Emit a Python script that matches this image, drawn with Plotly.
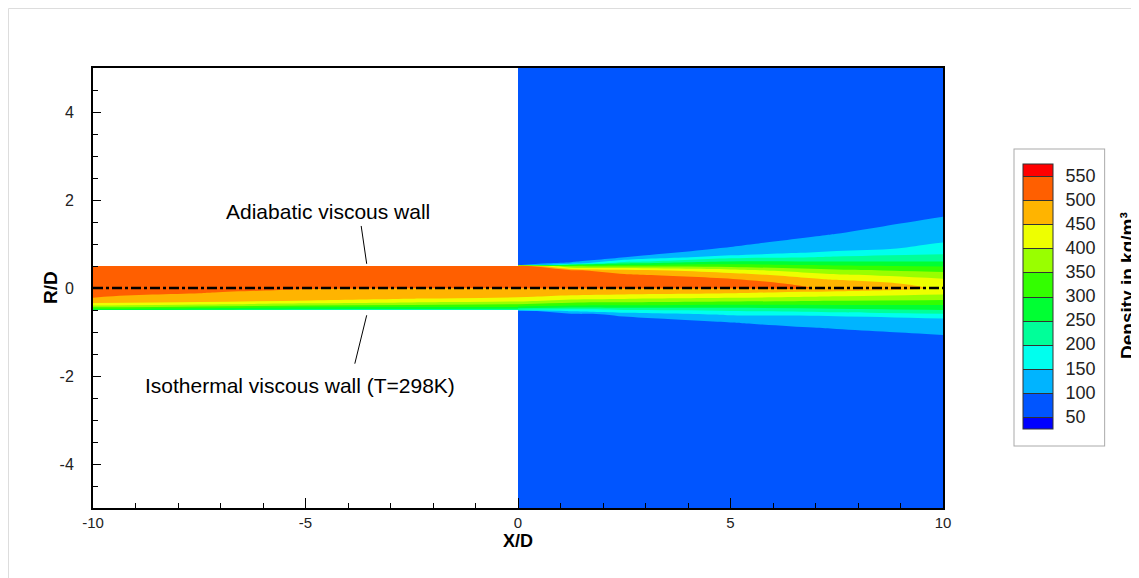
import plotly.graph_objects as go

# ---------------- data ----------------
levels = [50, 100, 150, 200, 250, 300, 350, 400, 450, 500, 550]
band_colors = ["#0000FF", "#0055FF", "#00B4FF", "#00FFEE", "#00FF99", "#00FF33",
               "#33FF00", "#99FF00", "#EEFF00", "#FFB400", "#FF5F00", "#FF0000"]

x_ticks = [-10, -5, 0, 5, 10]
x_ticktext = ["-10", "-5", "0", "5", "10"]
y_ticks = [-4, -2, 0, 2, 4]
y_ticktext = ["-4", "-2", "0", "2", "4"]

# density inside the pipe (x < 0), rows = r/D, columns = x/D
pipe_x = [-10, -7.5, -5, -2.5, 0]
pipe_r = [-0.5, -0.47, -0.44, -0.40, -0.36, -0.32, -0.28, -0.24, -0.20,
          -0.15, -0.10, -0.05, 0.0, 0.5]
pipe_rho = [
    [260, 245, 230, 220, 200],
    [312, 286, 262, 256, 250],
    [350, 325, 300, 294, 292],
    [400, 372, 350, 335, 325],
    [440, 414, 390, 373, 358],
    [463, 450, 425, 406, 392],
    [480, 461, 452, 431, 417],
    [498, 472, 460, 452, 439],
    [502, 482, 468, 461, 455],
    [505, 496, 478, 471, 466],
    [507, 502, 488, 482, 478],
    [510, 505, 498, 493, 490],
    [513, 508, 503, 501, 501],
    [540, 540, 540, 540, 540],
]

# density of the free jet (x > 0), rows = r/D, columns = x/D
jet_x = [0, 1.25, 2.5, 5, 7.5, 10]
jet_r = [-5, -1.4, -1.2, -1.0, -0.9, -0.8, -0.7, -0.6, -0.56, -0.52, -0.5,
         -0.4, -0.3, -0.2, -0.1, 0.0, 0.1, 0.2, 0.3, 0.4, 0.5, 0.52, 0.56,
         0.6, 0.7, 0.8, 0.9, 1.0, 1.2, 1.4, 1.6, 1.8, 2.2, 5]
jet_rho = [
    [75, 75, 75, 75, 75, 75],
    [75, 60, 60, 63, 72, 80],
    [75, 62, 67, 75, 84, 92],
    [75, 71, 79, 87, 96, 104],
    [75, 77, 85, 93, 102, 110],
    [75, 83, 91, 99, 108, 116],
    [75, 89, 97, 105, 114, 148],
    [75, 95, 103, 160, 176, 191],
    [75, 108, 150, 180, 195, 212],
    [75, 158, 183, 200, 220, 237],
    [200, 183, 200, 214, 233, 250],
    [325, 300, 296, 286, 292, 295],
    [406, 375, 369, 356, 345, 338],
    [455, 438, 428, 414, 395, 382],
    [478, 474, 470, 460, 435, 415],
    [501, 503, 503, 506, 498, 440],
    [508, 512, 510, 510, 490, 422],
    [516, 516, 511, 503, 443, 404],
    [524, 516, 506, 472, 407, 373],
    [532, 510, 473, 420, 360, 337],
    [540, 333, 333, 331, 306, 295],
    [75, 275, 300, 315, 294, 286],
    [75, 120, 243, 285, 272, 268],
    [75, 90, 186, 254, 250, 250],
    [75, 84, 99, 181, 205, 217],
    [75, 78, 93, 108, 172, 191],
    [75, 72, 87, 102, 120, 173],
    [75, 66, 81, 96, 114, 155],
    [75, 62, 69, 84, 102, 125],
    [75, 60, 60, 72, 90, 113],
    [75, 60, 60, 60, 78, 101],
    [75, 60, 60, 60, 66, 89],
    [75, 60, 60, 60, 60, 65],
    [75, 75, 75, 75, 75, 75],
]

centerline_x = [-10, 10]
centerline_r = [0, 0]

wall_labels = ["Adiabatic viscous wall", "Isothermal viscous wall (T=298K)"]

# ---------------- styling ----------------
n = len(band_colors)
nb = n - 1
cscale = []
for k, c in enumerate(band_colors):
    lo = 0.0 if k == 0 else (k - 0.5) / nb
    hi = 1.0 if k == n - 1 else (k + 0.5) / nb
    cscale.append([lo, c])
    cscale.append([hi, c])

contours = dict(start=levels[0], end=levels[-1], size=levels[1] - levels[0],
                coloring="fill", showlines=False)

SANS = "Liberation Sans, Arial, Helvetica"

# plot area in figure pixels
L, T, PW, PH = 85, 60, 850, 440
W, H = 1139, 578


def px(xp):
    return (xp - L) / PW


def py(yp):
    return (T + PH - yp) / PH


fig = go.Figure()

fig.add_trace(go.Contour(x=pipe_x, y=pipe_r, z=pipe_rho, contours=contours,
                         colorscale=cscale, showscale=False, line_width=0,
                         hoverinfo="skip"))
fig.add_trace(go.Contour(x=jet_x, y=jet_r, z=jet_rho, contours=contours,
                         colorscale=cscale, showscale=False, line_width=0,
                         hoverinfo="skip"))

# legend-only contour (off-axis) to draw the banded colour bar with separators
fig.add_trace(go.Contour(
    x=[100, 101], y=[100, 101], z=[[0, 600], [0, 600]],
    contours=dict(start=levels[0], end=levels[-1], size=levels[1] - levels[0],
                  coloring="fill", showlines=True),
    line=dict(color="#333333", width=1),
    colorscale=cscale, showscale=True, hoverinfo="skip",
    colorbar=dict(
        x=px(1007), xanchor="left", y=py(288), yanchor="middle",
        len=295, lenmode="pixels", thickness=30, thicknessmode="pixels",
        xpad=8, ypad=15, outlinewidth=1, outlinecolor="#333333",
        bgcolor="white", bordercolor="#aaaaaa", borderwidth=1,
        tickmode="array", tickvals=levels, ticks="outside", ticklen=9,
        tickcolor="rgba(0,0,0,0)",
        tickfont=dict(size=18, family=SANS, color="#222222"),
    ),
))

fig.add_trace(go.Scatter(x=centerline_x, y=centerline_r, mode="lines",
                         line=dict(color="black", width=2.5, dash="10px,3px,3px,3px"),
                         hoverinfo="skip", showlegend=False))

# wall labels with leader lines
fig.add_annotation(x=-4.46, y=1.74, text=wall_labels[0], showarrow=False,
                   xanchor="center", yanchor="middle",
                   font=dict(size=21, family=SANS, color="black"))
fig.add_annotation(x=-5.12, y=-2.21, text=wall_labels[1], showarrow=False,
                   xanchor="center", yanchor="middle",
                   font=dict(size=21, family=SANS, color="black"))
fig.add_shape(type="line", x0=-3.69, y0=1.41, x1=-3.56, y1=0.55,
              line=dict(color="black", width=1))
fig.add_shape(type="line", x0=-3.56, y0=-0.62, x1=-3.84, y1=-1.72,
              line=dict(color="black", width=1))

# axis titles
fig.add_annotation(xref="paper", yref="paper", x=0.5, y=py(533),
                   xanchor="center", yanchor="middle",
                   text="<b>X/D</b>", showarrow=False,
                   font=dict(size=18, family=SANS, color="black"))
fig.add_annotation(xref="paper", yref="paper", x=px(42), y=0.5,
                   xanchor="center", yanchor="middle",
                   text="<b>R/D</b>", textangle=-90, showarrow=False,
                   font=dict(size=19, family=SANS, color="black"))

# colour bar title
fig.add_annotation(xref="paper", yref="paper", x=px(1119), y=py(278),
                   xanchor="center", yanchor="middle",
                   text="<b>Density in kg/m³</b>", textangle=-90, showarrow=False,
                   font=dict(size=19, family=SANS, color="black"))

# light page frame
fig.add_shape(type="rect", xref="paper", yref="paper",
              x0=px(0.5), x1=px(1300), y0=py(700), y1=py(0.5),
              line=dict(color="#dddddd", width=1), layer="below")

fig.update_layout(
    width=W, height=H,
    margin=dict(l=L, r=W - L - PW, t=T, b=H - T - PH),
    paper_bgcolor="white", plot_bgcolor="white",
    showlegend=False,
    xaxis=dict(range=[-10, 10], tickmode="array", tickvals=x_ticks,
               ticktext=x_ticktext, ticks="inside", ticklen=10,
               tickwidth=1, tickcolor="black",
               minor=dict(tickmode="linear", tick0=0, dtick=1, ticks="inside",
                          ticklen=5, tickcolor="black"),
               showline=True, linecolor="black", linewidth=2, mirror=True,
               showgrid=False, zeroline=False, ticklabelstandoff=0,
               tickfont=dict(size=15, family=SANS, color="#222222")),
    yaxis=dict(range=[-5, 5], tickmode="array", tickvals=y_ticks,
               ticktext=y_ticktext, ticks="inside", ticklen=8,
               tickwidth=1, tickcolor="black",
               minor=dict(tickmode="linear", tick0=0, dtick=0.5, ticks="inside",
                          ticklen=5, tickcolor="black"),
               showline=True, linecolor="black", linewidth=2, mirror=True,
               showgrid=False, zeroline=False, ticklabelstandoff=14,
               tickfont=dict(size=16, family=SANS, color="#222222")),
)

fig.write_html("out.html")
